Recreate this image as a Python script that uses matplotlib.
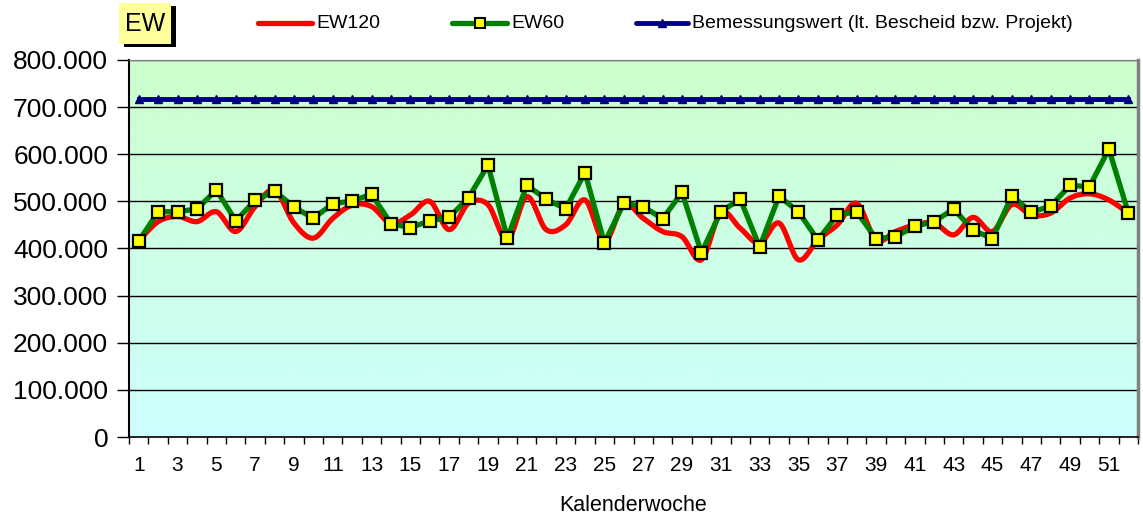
import numpy as np
import matplotlib
matplotlib.use("Agg")
import matplotlib.pyplot as plt
from matplotlib.ticker import FuncFormatter, MultipleLocator
from matplotlib.patches import Rectangle

plt.rcParams['font.family'] = ['Liberation Sans', 'DejaVu Sans']

weeks = np.arange(1, 53)

ew60 = [416000, 478000, 478000, 484000, 524000, 459000, 502000, 522000, 488000, 464000,
        495000, 501000, 515000, 453000, 444000, 459000, 466000, 508000, 577000, 422000,
        534000, 505000, 484000, 561000, 412000, 496000, 489000, 463000, 519000, 391000,
        478000, 505000, 403000, 511000, 478000, 418000, 471000, 478000, 421000, 425000,
        447000, 457000, 484000, 439000, 421000, 512000, 477000, 490000, 534000, 531000,
        611000, 476000]

ew120 = [416000, 457000, 468000, 457000, 478000, 436000, 489000, 524000, 454000, 422000,
         464000, 492000, 489000, 453000, 471000, 500000, 440000, 496000, 493000, 418000,
         510000, 440000, 450000, 503000, 415000, 493000, 464000, 436000, 425000, 376000,
         476000, 443000, 411000, 454000, 376000, 418000, 450000, 496000, 418000, 436000,
         450000, 454000, 429000, 466000, 436000, 493000, 471000, 475000, 507000, 516000,
         503000, 475000]

bemessung = [717000] * 52


def smooth(x, y, n=20):
    # Catmull-Rom spline, like Excel's smoothed line
    x = np.asarray(x, float)
    y = np.asarray(y, float)
    px = np.concatenate([[x[0]], x, [x[-1]]])
    py = np.concatenate([[y[0]], y, [y[-1]]])
    xs, ys = [], []
    t = np.linspace(0, 1, n, endpoint=False)
    for i in range(1, len(px) - 2):
        for p, out in ((px, xs), (py, ys)):
            p0, p1, p2, p3 = p[i - 1], p[i], p[i + 1], p[i + 2]
            out.extend(0.5 * ((2 * p1) + (-p0 + p2) * t
                              + (2 * p0 - 5 * p1 + 4 * p2 - p3) * t ** 2
                              + (-p0 + 3 * p1 - 3 * p2 + p3) * t ** 3))
    xs.append(x[-1])
    ys.append(y[-1])
    return np.array(xs), np.array(ys)


fig = plt.figure(figsize=(11.43, 5.14), dpi=100)
ax = fig.add_axes([0.1129, 0.1498, 0.8827, 0.7335])

# gradient background
grad = np.linspace(0, 1, 256).reshape(-1, 1)
top = np.array([204, 255, 204]) / 255
bot = np.array([204, 255, 255]) / 255
img = top + (bot - top) * grad[:, :, None]
ax.imshow(img, extent=[0, 1, 0, 1], transform=ax.transAxes, aspect='auto', zorder=0)

ax.set_xlim(0.5, 52.5)
ax.set_ylim(0, 800000)

for v in range(100000, 800001, 100000):
    ax.axhline(v, color='black', lw=1.0, zorder=1)

sx, sy = smooth(weeks, ew120)
ax.plot(sx, sy, color='#ff0000', lw=3.8, zorder=3, solid_capstyle='round')
ax.plot(weeks, ew60, color='#008000', lw=3.8, marker='s', markersize=8,
        markerfacecolor='#ffff00', markeredgecolor='black', markeredgewidth=1.6, zorder=4)
ax.plot(weeks, bemessung, color='#000080', lw=3.5, marker='^', markersize=6,
        markerfacecolor='#000080', markeredgecolor='#000080', zorder=4)

ax.yaxis.set_major_locator(MultipleLocator(100000))
ax.yaxis.set_major_formatter(FuncFormatter(lambda v, p: '0' if v == 0 else f'{int(v):,}'.replace(',', '.')))
ax.tick_params(axis='y', direction='out', length=9, width=1, labelsize=19, pad=6)

ax.set_xticks(weeks[::2])
ax.set_xticklabels([str(w) for w in weeks[::2]])
ax.set_xticks(np.arange(0.5, 53, 1), minor=True)
ax.tick_params(axis='x', which='major', length=0, labelsize=15, pad=14)
ax.tick_params(axis='x', which='minor', direction='out', length=5, width=1)
ax.set_xlabel('Kalenderwoche', fontsize=15.5, labelpad=14)

for s in ['top', 'right']:
    ax.spines[s].set_color('#808080')
ax.spines['right'].set_linewidth(2.5)
ax.spines['left'].set_linewidth(1.5)
ax.spines['bottom'].set_linewidth(1.2)

# EW box with shadow
fig.patches.append(Rectangle((0.1085, 0.9085), 0.0455, 0.0800, transform=fig.transFigure,
                             facecolor='black', edgecolor='none', zorder=5))
fig.patches.append(Rectangle((0.1040, 0.9150), 0.0455, 0.0800, transform=fig.transFigure,
                             facecolor='#ffff99', edgecolor='none', zorder=6))
fig.text(0.1267, 0.9530, 'EW', fontsize=18, ha='center', va='center', zorder=7)

# legend
lax = fig.add_axes([0, 0.88, 1, 0.12])
lax.set_xlim(0, 1143)
lax.set_ylim(514 * 0.12, 0)
lax.axis('off')
ly = 23
lax.plot([258, 312], [ly, ly], color='#ff0000', lw=3.8, solid_capstyle='round')
lax.text(316, ly, 'EW120', fontsize=14, va='center')
lax.plot([452, 507], [ly, ly], color='#008000', lw=3.8, solid_capstyle='round')
lax.plot([479.5], [ly], marker='s', markersize=7, markerfacecolor='#ffff00',
         markeredgecolor='black', markeredgewidth=1.5)
lax.text(511, ly, 'EW60', fontsize=14, va='center')
lax.plot([636, 688], [ly, ly], color='#000080', lw=3.5, solid_capstyle='round')
lax.plot([662], [ly], marker='^', markersize=6, color='#000080')
lax.text(692, ly, 'Bemessungswert (lt. Bescheid bzw. Projekt)', fontsize=14, va='center')

fig.savefig('out.png', dpi=100)
